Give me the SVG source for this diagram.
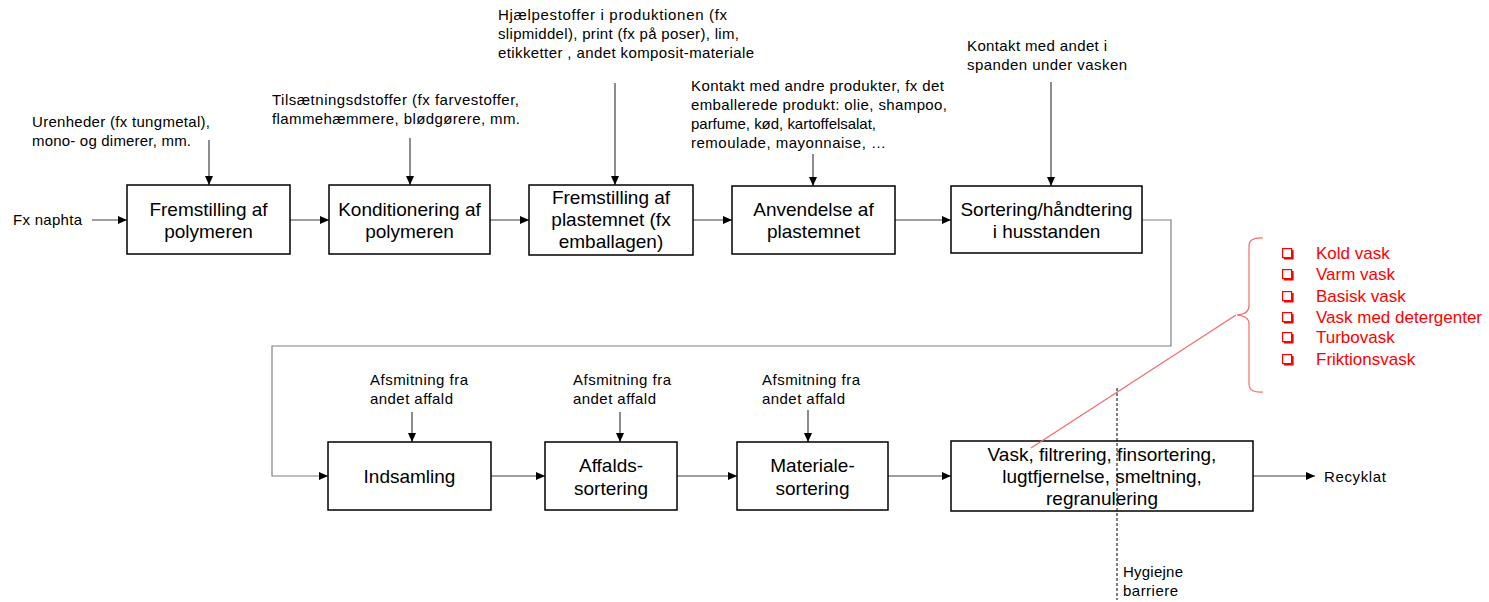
<svg xmlns="http://www.w3.org/2000/svg" width="1489" height="602" viewBox="0 0 1489 602">
<style>
  .box { fill: #ffffff; stroke: #000000; stroke-width: 1.5; }
  .bt { font-family: "Liberation Sans", Arial, sans-serif; font-size: 19px; fill: #000; text-anchor: middle; }
  .st { font-family: "Liberation Sans", Arial, sans-serif; font-size: 15px; fill: #000; }
  .rt { font-family: "Liberation Sans", Arial, sans-serif; font-size: 17px; fill: #FF0000; }
  .con { fill: none; stroke: #404040; stroke-width: 1.2; }
  .loop { fill: none; stroke: #808080; stroke-width: 1.2; }
  .red { fill: none; stroke: #F46A6A; stroke-width: 1.2; }
  .dash { fill: none; stroke: #000; stroke-width: 1; stroke-dasharray: 3 2; }
</style>
<defs>
  <marker id="ah" markerWidth="10" markerHeight="8" refX="9" refY="4" orient="auto" markerUnits="userSpaceOnUse">
    <path d="M0,0 L9,4 L0,8 Z" fill="#000"/>
  </marker>
  <g id="cbox">
    <rect x="0.6" y="0.6" width="9" height="9" fill="#fff" stroke="#FF0000" stroke-width="1.2"/>
    <path d="M10.6,2 V10.6 H2" fill="none" stroke="#FF0000" stroke-width="2"/>
  </g>
</defs>

<g id="connectors">
  <line class="con" x1="92" y1="220" x2="127" y2="220" marker-end="url(#ah)"/>
  <line class="con" x1="290" y1="220" x2="329" y2="220" marker-end="url(#ah)"/>
  <line class="con" x1="490" y1="220" x2="529" y2="220" marker-end="url(#ah)"/>
  <line class="con" x1="693" y1="220" x2="732" y2="220" marker-end="url(#ah)"/>
  <line class="con" x1="895" y1="220" x2="951" y2="220" marker-end="url(#ah)"/>
  <path class="loop" d="M1142,220 H1171 V346 H272 V476 H328" marker-end="url(#ah)"/>
  <line class="con" x1="491" y1="476" x2="545" y2="476" marker-end="url(#ah)"/>
  <line class="con" x1="677" y1="476" x2="737" y2="476" marker-end="url(#ah)"/>
  <line class="con" x1="888" y1="476" x2="951" y2="476" marker-end="url(#ah)"/>
  <line class="con" x1="1253" y1="476" x2="1315" y2="476" marker-end="url(#ah)"/>
  <line class="con" x1="209" y1="140" x2="209" y2="185" marker-end="url(#ah)"/>
  <line class="con" x1="410" y1="138" x2="410" y2="185" marker-end="url(#ah)"/>
  <line class="con" x1="615" y1="83" x2="615" y2="185" marker-end="url(#ah)"/>
  <line class="con" x1="813" y1="154" x2="813" y2="186" marker-end="url(#ah)"/>
  <line class="con" x1="1051" y1="82" x2="1051" y2="186" marker-end="url(#ah)"/>
  <line class="con" x1="412" y1="412" x2="412" y2="442" marker-end="url(#ah)"/>
  <line class="con" x1="620" y1="412" x2="620" y2="442" marker-end="url(#ah)"/>
  <line class="con" x1="808" y1="410" x2="808" y2="442" marker-end="url(#ah)"/>
</g>

<g id="n1"><rect class="box" x="127" y="185" width="163" height="69"/>
  <text class="bt" x="208.5" y="216">Fremstilling af</text><text class="bt" x="208.5" y="238">polymeren</text></g>
<g id="n2"><rect class="box" x="329" y="185" width="161" height="69"/>
  <text class="bt" x="409.5" y="216">Konditionering af</text><text class="bt" x="409.5" y="238">polymeren</text></g>
<g id="n3"><rect class="box" x="529" y="185" width="164" height="70"/>
  <text class="bt" x="611" y="204">Fremstilling af</text><text class="bt" x="611" y="226">plastemnet (fx</text><text class="bt" x="611" y="248">emballagen)</text></g>
<g id="n4"><rect class="box" x="732" y="186" width="163" height="68"/>
  <text class="bt" x="813.5" y="216">Anvendelse af</text><text class="bt" x="813.5" y="238">plastemnet</text></g>
<g id="n5"><rect class="box" x="951" y="186" width="191" height="67"/>
  <text class="bt" x="1046.5" y="216">Sortering/håndtering</text><text class="bt" x="1046.5" y="238">i husstanden</text></g>
<g id="n6"><rect class="box" x="328" y="442" width="163" height="68"/>
  <text class="bt" x="409.5" y="483">Indsamling</text></g>
<g id="n7"><rect class="box" x="545" y="442" width="132" height="68"/>
  <text class="bt" x="611" y="472">Affalds-</text><text class="bt" x="611" y="495">sortering</text></g>
<g id="n8"><rect class="box" x="737" y="442" width="151" height="68"/>
  <text class="bt" x="812.5" y="472">Materiale-</text><text class="bt" x="812.5" y="495">sortering</text></g>
<g id="n9"><rect class="box" x="951" y="441" width="302" height="70"/>
  <text class="bt" x="1102" y="461">Vask, filtrering, finsortering,</text><text class="bt" x="1102" y="483">lugtfjernelse, smeltning,</text><text class="bt" x="1102" y="505">regranulering</text></g>

<g id="labels">
  <text class="st" x="13" y="225" textLength="69" lengthAdjust="spacing">Fx naphta</text>
  <text class="st" x="32" y="127" textLength="178" lengthAdjust="spacing">Urenheder (fx tungmetal),</text>
  <text class="st" x="32" y="146" textLength="159" lengthAdjust="spacing">mono- og dimerer, mm.</text>
  <text class="st" x="272" y="105" textLength="247" lengthAdjust="spacing">Tilsætningsdstoffer (fx farvestoffer,</text>
  <text class="st" x="272" y="124" textLength="248" lengthAdjust="spacing">flammehæmmere, blødgørere, mm.</text>
  <text class="st" x="498" y="20" textLength="229" lengthAdjust="spacing">Hjælpestoffer i produktionen (fx</text>
  <text class="st" x="498" y="39" textLength="241" lengthAdjust="spacing">slipmiddel), print (fx på poser), lim,</text>
  <text class="st" x="498" y="58" textLength="256" lengthAdjust="spacing">etikketter , andet komposit-materiale</text>
  <text class="st" x="691" y="91" textLength="253" lengthAdjust="spacing">Kontakt med andre produkter, fx det</text>
  <text class="st" x="691" y="110" textLength="256" lengthAdjust="spacing">emballerede produkt: olie, shampoo,</text>
  <text class="st" x="691" y="129" textLength="185" lengthAdjust="spacing">parfume, kød, kartoffelsalat,</text>
  <text class="st" x="691" y="148" textLength="195" lengthAdjust="spacing">remoulade, mayonnaise, …</text>
  <text class="st" x="967" y="51" textLength="140" lengthAdjust="spacing">Kontakt med andet i</text>
  <text class="st" x="967" y="70" textLength="160" lengthAdjust="spacing">spanden under vasken</text>
  <text class="st" x="370" y="385" textLength="98" lengthAdjust="spacing">Afsmitning fra</text>
  <text class="st" x="370" y="404" textLength="83" lengthAdjust="spacing">andet affald</text>
  <text class="st" x="573" y="385" textLength="98" lengthAdjust="spacing">Afsmitning fra</text>
  <text class="st" x="573" y="404" textLength="83" lengthAdjust="spacing">andet affald</text>
  <text class="st" x="762" y="385" textLength="98" lengthAdjust="spacing">Afsmitning fra</text>
  <text class="st" x="762" y="404" textLength="83" lengthAdjust="spacing">andet affald</text>
  <text class="st" x="1324" y="482" textLength="62" lengthAdjust="spacing">Recyklat</text>
  <text class="st" x="1123" y="577" textLength="60" lengthAdjust="spacing">Hygiejne</text>
  <text class="st" x="1123" y="596" textLength="55" lengthAdjust="spacing">barriere</text>
</g>

<g id="barrier">
  <line class="dash" x1="1117" y1="388" x2="1117" y2="600"/>
</g>

<g id="wash-options">
  <line class="red" x1="1031" y1="448" x2="1236" y2="315"/>
  <path class="red" d="M1263,238 Q1249,237 1249,246 V306 Q1249,314 1237,315 Q1249,316 1249,324 V384 Q1249,393 1263,392"/>
  <use href="#cbox" x="1282" y="248"/>
  <use href="#cbox" x="1282" y="269"/>
  <use href="#cbox" x="1282" y="291"/>
  <use href="#cbox" x="1282" y="312"/>
  <use href="#cbox" x="1282" y="332"/>
  <use href="#cbox" x="1282" y="354"/>
  <text class="rt" x="1316" y="259">Kold vask</text>
  <text class="rt" x="1316" y="280">Varm vask</text>
  <text class="rt" x="1316" y="302">Basisk vask</text>
  <text class="rt" x="1316" y="323">Vask med detergenter</text>
  <text class="rt" x="1316" y="343">Turbovask</text>
  <text class="rt" x="1316" y="365">Friktionsvask</text>
</g>
</svg>
